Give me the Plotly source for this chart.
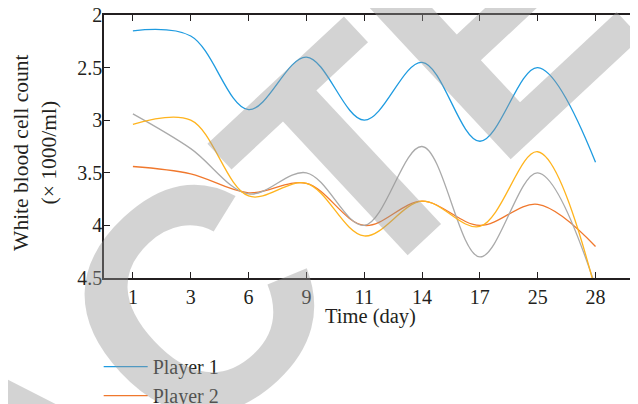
import plotly.graph_objects as go

days = ["1", "3", "6", "9", "11", "14", "17", "25", "28"]
player1 = [2.15, 2.2, 2.9, 2.4, 3.0, 2.45, 3.2, 2.5, 3.4]
player2 = [3.44, 3.51, 3.69, 3.6, 4.0, 3.77, 4.0, 3.8, 4.2]
player3 = [2.94, 3.27, 3.7, 3.5, 4.0, 3.25, 4.3, 3.5, 4.58]
player4 = [3.04, 3.0, 3.72, 3.6, 4.1, 3.77, 4.01, 3.3, 4.62]
y_ticks = [2, 2.5, 3, 3.5, 4, 4.5]

series = [
    ("Player 1", player1, "#1E9BE0", True),
    ("Player 2", player2, "#F0782D", True),
    ("Player 3", player3, "#AAAAAA", False),
    ("Player 4", player4, "#FFB41E", False),
]

font_family = "Liberation Serif, Times New Roman, serif"
ink = "#231F20"

fig = go.Figure()
for name, vals, color, show in series:
    fig.add_trace(go.Scatter(
        x=list(range(len(days))), y=vals, name=name, mode="lines",
        legendgroup=name,
        line=dict(color=color, width=1.3, shape="spline", smoothing=1.0),
        showlegend=show,
    ))

# the page body adds an 8px offset, so the figure is 8px smaller
fig.update_layout(
    width=630, height=396,
    margin=dict(l=96, r=2, t=7, b=126, autoexpand=False),
    paper_bgcolor="white", plot_bgcolor="white",
    font=dict(family=font_family, size=20, color=ink),
    xaxis=dict(
        range=[-0.5, 8.7], tickmode="array",
        tickvals=list(range(len(days))), ticktext=days,
        ticks="inside", ticklen=6, tickcolor=ink,
        showline=True, linecolor=ink, linewidth=1.5, mirror="ticks",
        showgrid=False, zeroline=False, automargin=False,
        tickfont=dict(size=20),
    ),
    yaxis=dict(
        range=[4.5, 2], tickmode="array", tickvals=y_ticks,
        ticktext=[str(v) for v in y_ticks],
        ticks="inside", ticklen=6, tickcolor=ink,
        showline=True, linecolor=ink, linewidth=1.5, mirror="ticks",
        showgrid=False, zeroline=False, automargin=False,
        ticklabelstandoff=-4, ticklabeloverflow="allow",
        tickfont=dict(size=20),
    ),
    legend=dict(x=-0.010, y=-0.263, xanchor="left", yanchor="top",
                font=dict(size=20), bgcolor="rgba(0,0,0,0)",
                tracegroupgap=0, itemwidth=44),
    annotations=[
        dict(text="Time (day)", xref="paper", yref="paper",
             x=0.5, y=-0.145, xanchor="center", yanchor="middle",
             showarrow=False, font=dict(size=20.5)),
        dict(text="White blood cell count<br>(× 1000/ml)",
             xref="paper", yref="paper",
             x=-0.130, y=0.475, xanchor="center", yanchor="middle",
             showarrow=False, textangle=-90, font=dict(size=21.5)),
        dict(text="<b>RETRACTED</b>", xref="paper", yref="paper",
             x=-0.143, y=-0.689, xanchor="center", yanchor="middle",
             showarrow=False, textangle=-43,
             font=dict(family="Liberation Sans, Arial, sans-serif", size=317,
                       color="rgba(150,150,150,0.42)")),
    ],
)

fig.write_html("out.html")
